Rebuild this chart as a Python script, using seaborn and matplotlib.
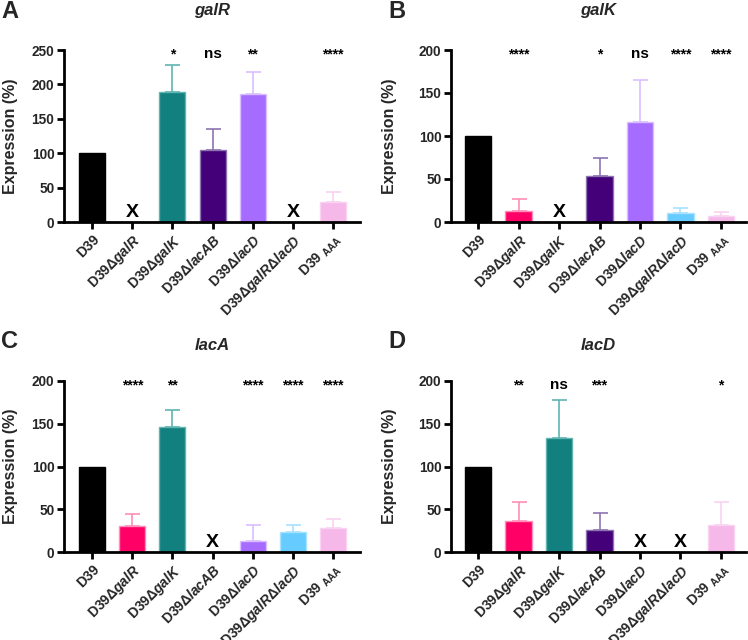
import numpy as np
import pandas as pd
import matplotlib
matplotlib.use("Agg")
import matplotlib.pyplot as plt
import seaborn as sns

# ---------------- data ----------------
categories = ["D39", "D39ΔgalR", "D39ΔgalK", "D39ΔlacAB", "D39ΔlacD", "D39ΔgalRΔlacD", "D39AAA"]
tick_labels = ["D39",
               "D39Δ$\\mathit{galR}$",
               "D39Δ$\\mathit{galK}$",
               "D39Δ$\\mathit{lacAB}$",
               "D39Δ$\\mathit{lacD}$",
               "D39Δ$\\mathit{galR}$Δ$\\mathit{lacD}$",
               "D39 $_{\\mathrm{AAA}}$"]
bar_colors = ["#000000", "#FF0066", "#138080", "#430078", "#A66BFF", "#66CCFF", "#F5B8E8"]
err_colors = ["#555555", "#FF8FB8", "#5FB5B1", "#8C74B0", "#D9BFFF", "#A8E2FF", "#F9D3F1"]

panel_letters = ["A", "B", "C", "D"]
genes = ["galR", "galK", "lacA", "lacD"]
y_max = [250, 200, 200, 200]

galR_mean = [100, np.nan, 189, 104, 186, np.nan, 29]
galR_upper = [np.nan, np.nan, 228, 135, 218, np.nan, 44]
galR_sig = ["", "", "*", "ns", "**", "", "****"]

galK_mean = [100, 13, np.nan, 53, 116, 11, 7]
galK_upper = [np.nan, 27, np.nan, 75, 165, 16, 12]
galK_sig = ["", "****", "", "*", "ns", "****", "****"]

lacA_mean = [100, 30, 146, np.nan, 13, 23, 28]
lacA_upper = [np.nan, 44, 166, np.nan, 31, 31, 39]
lacA_sig = ["", "****", "**", "", "****", "****", "****"]

lacD_mean = [100, 36, 133, 26, np.nan, np.nan, 31]
lacD_upper = [np.nan, 59, 178, 46, np.nan, np.nan, 59]
lacD_sig = ["", "**", "ns", "***", "", "", "*"]

means = [galR_mean, galK_mean, lacA_mean, lacD_mean]
uppers = [galR_upper, galK_upper, lacA_upper, lacD_upper]
sigs = [galR_sig, galK_sig, lacA_sig, lacD_sig]

# ---------------- style ----------------
sns.set_theme(style="ticks")
plt.rcParams["font.family"] = ["Liberation Sans", "DejaVu Sans"]
plt.rcParams["font.weight"] = "bold"
plt.rcParams["mathtext.fontset"] = "custom"
plt.rcParams["mathtext.rm"] = "Liberation Sans:bold"
plt.rcParams["mathtext.it"] = "Liberation Sans:italic:bold"
plt.rcParams["mathtext.bf"] = "Liberation Sans:bold"

W, H = 748, 640
fig = plt.figure(figsize=(W / 100, H / 100), dpi=100)

# pixel geometry: (left, right, top(at ymax), bottom(at 0))
geoms = [(64, 360, 50, 222), (451, 746, 50, 222), (64, 360, 381, 552), (451, 746, 381, 552)]
xlims = [(-0.70, 6.67), (-0.67, 6.62), (-0.70, 6.67), (-0.67, 6.62)]
title_y = [11, 11, 345, 345]
letter_y = [12, 12, 341, 341]
ylabel_off = [46, 54, 46, 54]

for i in range(4):
    l, r, t, b = geoms[i]
    ax = fig.add_axes([l / W, 1 - b / H, (r - l) / W, (b - t) / H])
    df = pd.DataFrame({"cat": categories, "val": np.nan_to_num(np.array(means[i], dtype=float))})
    sns.barplot(data=df, x="cat", y="val", hue="cat", palette=bar_colors, legend=False,
                width=0.65, errorbar=None, ax=ax, linewidth=1.0, saturation=1)
    for j, p in enumerate(ax.patches):
        p.set_edgecolor(err_colors[j] if j > 0 else "#000000")
        if np.isnan(means[i][j]):
            p.set_visible(False)
    # error bars (upper only)
    for j in range(len(categories)):
        m = means[i][j]
        u = uppers[i][j]
        if not np.isnan(m) and not np.isnan(u):
            ax.errorbar(j, m, yerr=[[0], [u - m]], fmt="none", ecolor=err_colors[j],
                        elinewidth=1.2, capsize=5.4, capthick=1.2, zorder=1)
        if np.isnan(m):
            ax.text(j, y_max[i] * 0.005, "X", ha="center", va="bottom", fontsize=14,
                    fontweight="bold", color="black")
        if sigs[i][j]:
            ax.text(j, y_max[i] * 0.975, sigs[i][j], ha="center", va="center",
                    fontsize=11 if sigs[i][j] == "ns" else 10, fontweight="bold", color="black")
    ax.set_ylim(0, y_max[i])
    ax.set_xlim(*xlims[i])
    ax.set_yticks(np.arange(0, y_max[i] + 1, 50))
    ax.set_xticks(range(len(categories)))
    ax.set_xticklabels(tick_labels, rotation=45, ha="right", rotation_mode="anchor",
                       fontsize=10, fontweight="bold")
    for lab in ax.get_yticklabels():
        lab.set_fontweight("bold")
        lab.set_fontsize(9.8)
    ax.set_xlabel("")
    ax.set_ylabel("Expression (%)", fontsize=11.5, fontweight="bold")
    ax.yaxis.set_label_coords(-ylabel_off[i] / (r - l), 0.5)
    sns.despine(ax=ax)
    for s in ["left", "bottom"]:
        ax.spines[s].set_linewidth(2)
        ax.spines[s].set_color("black")
    ax.tick_params(axis="both", width=2, length=5, color="black", pad=2)
    fig.text((l + r) / 2 / W, 1 - title_y[i] / H, genes[i], fontstyle="italic",
             fontweight="bold", fontsize=12, ha="center", va="center")
    fig.text((l - 63) / W, 1 - letter_y[i] / H, panel_letters[i], fontsize=17,
             fontweight="bold", va="center", ha="left")

fig.savefig("out.png", dpi=100)
